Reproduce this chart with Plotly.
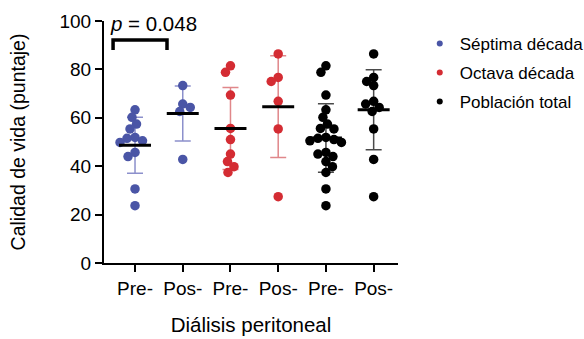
import numpy as np
import plotly.graph_objects as go

# ---------------- data ----------------
categories = ["Pre-", "Pos-", "Pre-", "Pos-", "Pre-", "Pos-"]
septima_pre = [63.3, 60.2, 57.4, 55.4, 51.9, 51.5, 50.5, 49.8, 45.7, 44.0, 30.6, 23.7]
septima_pos = [73.3, 65.7, 64.3, 62.6, 42.8]
octava_pre = [81.5, 78.8, 69.4, 55.6, 51.0, 45.0, 41.9, 39.8, 37.4]
octava_pos = [86.4, 76.7, 75.0, 66.8, 55.4, 27.4]
total_pre = septima_pre + octava_pre
total_pos = septima_pos + octava_pos
series_names = ["Séptima década", "Octava década", "Población total"]
p_value = 0.048
y_ticks = [0, 20, 40, 60, 80, 100]

# ---------------- style ----------------
FONT = "Liberation Sans, Arial, sans-serif"
dot_colors = ["#4a55a6", "#d42c33", "#000000"]
bar_colors = ["#8c90cc", "#e0878a", "#4a4a4a"]

W, H = 584, 339
# plot area in page pixels: x 104..398, y 21..263
ML, MT = 104, 21
MR = W - 398
MB = H - 263
X_RANGE = [-0.65, 5.51]
Y_RANGE = [0, 100]
PW = W - ML - MR
ppc = PW / (X_RANGE[1] - X_RANGE[0])              # px per category
ppu = (H - MT - MB) / (Y_RANGE[1] - Y_RANGE[0])   # px per unit

groups = [septima_pre, septima_pos, octava_pre, octava_pos, total_pre, total_pos]
group_series = [0, 0, 1, 1, 2, 2]


def swarm(vals, d_px=8.0):
    """Simple beeswarm layout: returns category offsets."""
    ys = np.asarray(vals) * ppu
    order = np.argsort(-ys)
    placed = []
    xs = np.zeros(len(vals))
    for i in order:
        y = ys[i]
        found = None
        k = 0
        while found is None:
            cands = [0.0] if k == 0 else ([k * 0.5, -k * 0.5] if k % 2 else [-k * 0.5, k * 0.5])
            for s in cands:
                if all((s - px) ** 2 + (y - py) ** 2 >= d_px ** 2 for px, py in placed):
                    found = s
                    break
            k += 1
        xs[i] = found
        placed.append((found, y))
    return xs / ppc


fig = go.Figure()

# error bars (mean ± SD)
for gi, vals in enumerate(groups):
    s = group_series[gi]
    m = float(np.mean(vals))
    sd = float(np.std(vals, ddof=1))
    fig.add_trace(go.Scatter(
        x=[gi], y=[m], mode="markers", marker=dict(size=1, opacity=0),
        error_y=dict(type="data", array=[sd], visible=True, color=bar_colors[s],
                     thickness=1.5, width=8),
        showlegend=False, hoverinfo="skip", cliponaxis=False))

# points
for gi, vals in enumerate(groups):
    s = group_series[gi]
    offs = swarm(vals)
    fig.add_trace(go.Scatter(
        x=gi + offs, y=vals, mode="markers",
        marker=dict(size=9.5, color=dot_colors[s], line=dict(width=0)),
        showlegend=False, cliponaxis=False, name=series_names[s]))

# mean lines
for gi, vals in enumerate(groups):
    m = float(np.mean(vals))
    fig.add_trace(go.Scatter(
        x=[gi - 0.335, gi + 0.335], y=[m, m], mode="lines",
        line=dict(color="black", width=3), showlegend=False, hoverinfo="skip",
        cliponaxis=False))

# legend entries
for s, name in enumerate(series_names):
    fig.add_trace(go.Scatter(
        x=[None], y=[None], mode="markers", name=name, legendgroup=name,
        marker=dict(size=6, color=dot_colors[s])))

# significance bracket between Séptima Pre- and Pos-
bx0, bx1 = 0 - 0.46, 1 - 0.33
by_top, by_bot = 92.1, 88.0
fig.add_shape(type="path",
              path=f"M {bx0},{by_bot} L {bx0},{by_top} L {bx1},{by_top} L {bx1},{by_bot}",
              xref="x", yref="y", line=dict(color="black", width=3.5))
fig.add_annotation(x=-0.56, y=99.0, xref="x", yref="y", xanchor="left", yanchor="middle",
                   text=f"<i>p</i> = {p_value:.3f}", showarrow=False,
                   font=dict(family=FONT, size=20.5, color="black"))

axis_common = dict(showline=True, linewidth=2, linecolor="black", ticks="outside",
                   ticklen=7, tickwidth=2, tickcolor="black", showgrid=False,
                   zeroline=False, tickfont=dict(family=FONT, size=19, color="black"))

fig.update_layout(
    width=W, height=H,
    margin=dict(l=ML, r=MR, t=MT, b=MB, autoexpand=False),
    paper_bgcolor="white", plot_bgcolor="white",
    font=dict(family=FONT, color="black"),
    xaxis=dict(range=X_RANGE, tickmode="array", tickvals=list(range(len(categories))),
               ticktext=categories,
               title=dict(text="Diálisis peritoneal", font=dict(family=FONT, size=20.5),
                          standoff=20),
               **axis_common),
    yaxis=dict(range=Y_RANGE, tickmode="array", tickvals=y_ticks,
               title=dict(text="Calidad de vida (puntaje)", font=dict(family=FONT, size=19.5),
                          standoff=29),
               **axis_common),
    legend=dict(x=1.074, y=0.98, xanchor="left", yanchor="top",
                xref="paper", yref="paper",
                font=dict(family=FONT, size=17, color="black"), tracegroupgap=4,
                bgcolor="rgba(0,0,0,0)"),
    showlegend=True,
)

fig.write_html(
    "out.html",
    config={"displayModeBar": False},
    post_script="document.body.style.margin='0';document.body.style.overflow='hidden';",
)
